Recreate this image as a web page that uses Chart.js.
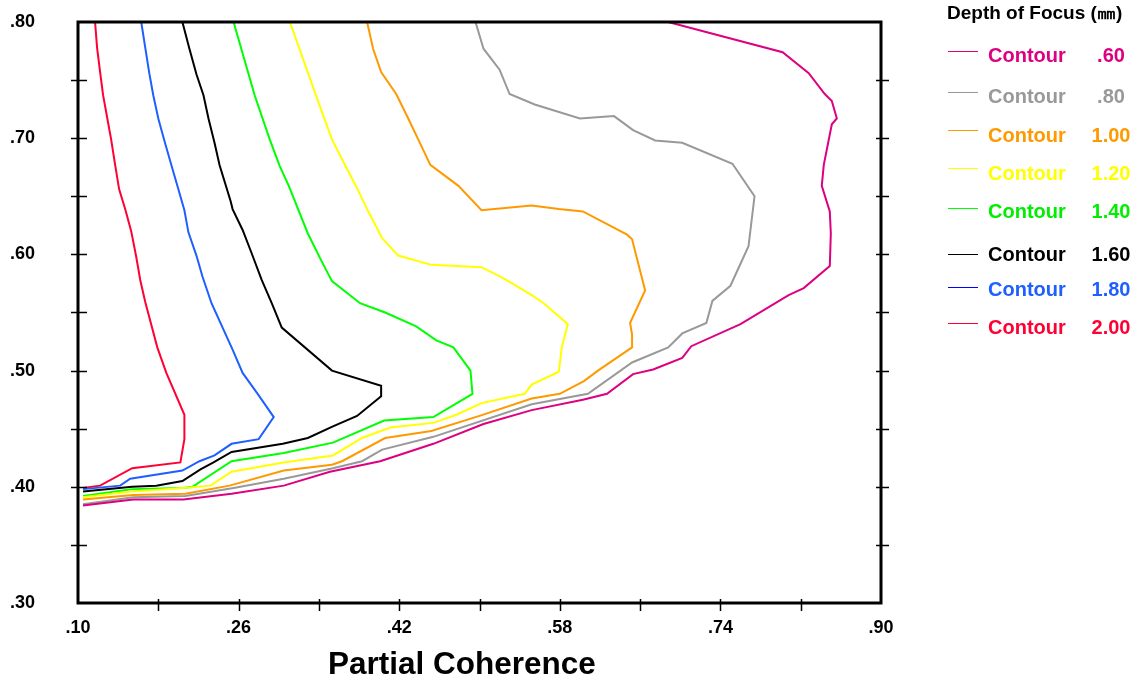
<!DOCTYPE html>
<html>
<head>
<meta charset="utf-8">
<script src="https://cdn.jsdelivr.net/npm/chart.js@4.4.1/dist/chart.umd.min.js"></script>
<style>
  body { margin: 0; background: #fff; }
  #wrap { position: relative; width: 1141px; height: 681px; font-family: "Liberation Sans", Arial, sans-serif; font-weight: bold; }
  #chart { position: absolute; left: 0; top: 0; }
  .lg { position: absolute; white-space: nowrap; }
</style>
</head>
<body>
<div id="wrap">
  <canvas id="chart" width="1141" height="681"></canvas>
</div>
<script>
// axis ticks
const xTicks = [0.10, 0.18, 0.26, 0.34, 0.42, 0.50, 0.58, 0.66, 0.74, 0.82, 0.90];
const yTicks = [0.30, 0.35, 0.40, 0.45, 0.50, 0.55, 0.60, 0.65, 0.70, 0.75, 0.80];

// contour levels (depth of focus)
const levels = ['.60', '.80', '1.00', '1.20', '1.40', '1.60', '1.80', '2.00'];
const lineColors = ['#DD0080', '#999999', '#FF9900', '#FFFF00', '#00FF00', '#000000', '#1F5FFF', '#FF0033'];
const textColors = ['#DD0080', '#999999', '#FF9900', '#FFFF00', '#00EE00', '#000000', '#1F5FFF', '#FF0033'];
const legendLineColors = ['#DD0080', '#999999', '#FF9900', '#FFFF00', '#00FF00', '#000000', '#0000FF', '#FF0033'];

// contour .60
const c060X = [0.688,0.802,0.828,0.844,0.851,0.856,0.851,0.843,0.841,0.849,0.850,0.849,0.823,0.808,0.760,0.711,0.702,0.673,0.653,0.627,0.603,0.552,0.504,0.454,0.401,0.351,0.305,0.253,0.205,0.155,0.105];
const c060Y = [0.800,0.774,0.756,0.738,0.732,0.717,0.712,0.677,0.659,0.637,0.618,0.590,0.571,0.565,0.540,0.521,0.511,0.501,0.497,0.480,0.475,0.466,0.454,0.437,0.422,0.413,0.401,0.394,0.389,0.389,0.384];
// contour .80
const c080X = [0.496,0.504,0.520,0.530,0.555,0.600,0.634,0.653,0.675,0.702,0.752,0.774,0.768,0.750,0.732,0.726,0.702,0.688,0.652,0.608,0.552,0.454,0.403,0.383,0.354,0.305,0.255,0.207,0.155,0.105];
const c080Y = [0.800,0.777,0.759,0.738,0.729,0.717,0.719,0.707,0.698,0.696,0.678,0.650,0.607,0.573,0.560,0.541,0.532,0.520,0.507,0.480,0.471,0.443,0.432,0.422,0.416,0.407,0.399,0.392,0.391,0.385];
// contour 1.00
const c100X = [0.388,0.394,0.402,0.417,0.429,0.440,0.451,0.479,0.502,0.552,0.579,0.603,0.647,0.652,0.665,0.650,0.652,0.652,0.618,0.604,0.580,0.552,0.500,0.452,0.406,0.363,0.353,0.305,0.251,0.207,0.155,0.105];
const c100Y = [0.800,0.777,0.757,0.738,0.717,0.697,0.677,0.659,0.638,0.642,0.639,0.637,0.617,0.613,0.569,0.541,0.531,0.520,0.500,0.491,0.480,0.476,0.461,0.448,0.442,0.422,0.419,0.414,0.401,0.394,0.393,0.389];
// contour 1.20
const c120X = [0.311,0.328,0.337,0.353,0.366,0.378,0.388,0.403,0.419,0.452,0.502,0.525,0.552,0.564,0.588,0.582,0.579,0.552,0.545,0.502,0.477,0.454,0.411,0.383,0.354,0.305,0.253,0.232,0.205,0.153,0.105];
const c120Y = [0.800,0.759,0.737,0.699,0.677,0.657,0.639,0.614,0.599,0.591,0.589,0.579,0.565,0.558,0.540,0.520,0.499,0.488,0.480,0.472,0.462,0.455,0.451,0.442,0.427,0.421,0.413,0.401,0.399,0.396,0.391];
// contour 1.40
const c140X = [0.255,0.276,0.291,0.301,0.310,0.329,0.341,0.353,0.381,0.406,0.437,0.457,0.474,0.491,0.493,0.454,0.405,0.354,0.305,0.253,0.214,0.205,0.154,0.105];
const c140Y = [0.800,0.737,0.699,0.676,0.659,0.618,0.597,0.577,0.558,0.550,0.538,0.526,0.520,0.500,0.480,0.460,0.457,0.438,0.429,0.422,0.400,0.399,0.398,0.392];
// contour 1.60
const c160X = [0.204,0.211,0.218,0.225,0.230,0.236,0.241,0.252,0.254,0.264,0.273,0.283,0.293,0.303,0.353,0.402,0.402,0.378,0.354,0.329,0.304,0.253,0.235,0.222,0.204,0.178,0.154,0.105];
const c160Y = [0.800,0.777,0.755,0.737,0.717,0.696,0.677,0.646,0.639,0.621,0.601,0.578,0.558,0.537,0.500,0.487,0.478,0.461,0.452,0.442,0.437,0.430,0.421,0.415,0.405,0.401,0.400,0.396];
// contour 1.80
const c180X = [0.163,0.167,0.171,0.175,0.180,0.186,0.193,0.199,0.206,0.210,0.218,0.224,0.233,0.254,0.264,0.279,0.295,0.280,0.253,0.236,0.221,0.204,0.152,0.142,0.105];
const c180Y = [0.800,0.778,0.756,0.737,0.717,0.698,0.677,0.659,0.638,0.619,0.599,0.581,0.558,0.518,0.498,0.480,0.460,0.441,0.437,0.427,0.422,0.414,0.407,0.401,0.398];
// contour 2.00
const c200X = [0.117,0.119,0.122,0.125,0.129,0.133,0.137,0.141,0.147,0.153,0.158,0.162,0.167,0.179,0.188,0.206,0.206,0.202,0.154,0.122,0.105];
const c200Y = [0.800,0.778,0.757,0.737,0.718,0.699,0.677,0.656,0.639,0.620,0.598,0.578,0.559,0.520,0.498,0.462,0.441,0.421,0.416,0.401,0.399];

const contoursX = [c060X, c080X, c100X, c120X, c140X, c160X, c180X, c200X];
const contoursY = [c060Y, c080Y, c100Y, c120Y, c140Y, c160Y, c180Y, c200Y];

function fmt(v) {
    return v.toFixed(2).replace(/^0\./, '.');
}

const datasets = levels.map((lv, i) => ({
    label: 'Contour ' + lv,
    data: contoursX[i].map((x, j) => ({x: x, y: contoursY[i][j]})),
    showLine: true,
    borderColor: lineColors[i],
    backgroundColor: lineColors[i],
    borderWidth: 2,
    pointRadius: 0,
    tension: 0,
    fill: false
}));

// box round the plot area and the little cross ticks
const framePlugin = {
    id: 'frame',
    afterDatasetsDraw(chart) {
        const ctx = chart.ctx;
        const a = chart.chartArea;
        const x = chart.scales.x, y = chart.scales.y;
        ctx.save();
        ctx.strokeStyle = '#000';
        ctx.lineWidth = 3;
        ctx.strokeRect(a.left, a.top, a.right - a.left, a.bottom - a.top);
        ctx.lineWidth = 1.5;
        ctx.beginPath();
        yTicks.slice(1, -1).forEach(v => {
            const py = Math.round(y.getPixelForValue(v)) + 0.5;
            ctx.moveTo(a.left - 7, py); ctx.lineTo(a.left + 9, py);
            ctx.moveTo(a.right - 5, py); ctx.lineTo(a.right + 8, py);
        });
        xTicks.slice(1, -1).forEach(v => {
            const px = Math.round(x.getPixelForValue(v)) + 0.5;
            ctx.moveTo(px, a.bottom - 4); ctx.lineTo(px, a.bottom + 8);
        });
        ctx.stroke();
        ctx.restore();
    }
};

const tickFont = {family: '"Liberation Sans", Arial, sans-serif', size: 18, weight: 'bold'};

new Chart(document.getElementById('chart'), {
    type: 'scatter',
    data: {datasets: datasets},
    options: {
        responsive: false,
        animation: false,
        layout: {padding: {left: 10, right: 260, top: 22, bottom: 0}},
        plugins: {legend: {display: false}, tooltip: {enabled: false}},
        scales: {
            x: {
                type: 'linear', min: 0.10, max: 0.90,
                afterBuildTicks: s => { s.ticks = xTicks.map(v => ({value: v})); },
                afterFit: s => { s.height = 78; },
                grid: {display: false},
                border: {display: false},
                ticks: {
                    color: '#000', font: tickFont, padding: 6, maxRotation: 0, autoSkip: false,
                    callback: (v, i) => i % 2 === 0 ? fmt(v) : ''
                }
            },
            y: {
                type: 'linear', min: 0.30, max: 0.80,
                afterBuildTicks: s => { s.ticks = yTicks.map(v => ({value: v})); },
                afterFit: s => { s.width = 68; },
                grid: {display: false},
                border: {display: false},
                ticks: {
                    color: '#000', font: tickFont, padding: 0, crossAlign: 'far', autoSkip: false,
                    callback: (v, i) => i % 2 === 0 ? fmt(v) : ''
                }
            }
        }
    },
    plugins: [framePlugin]
});

// axis title and legend as page text
const wrap = document.getElementById('wrap');
function addText(txt, left, top, size, color, extra) {
    const d = document.createElement('div');
    d.className = 'lg';
    d.textContent = txt;
    d.style.left = left + 'px';
    d.style.top = top + 'px';
    d.style.fontSize = size + 'px';
    d.style.lineHeight = size + 'px';
    d.style.color = color;
    if (extra) Object.assign(d.style, extra);
    wrap.appendChild(d);
    return d;
}

addText('Partial Coherence', 328, 648, 31.5, '#000');
addText('Depth of Focus (\u339C)', 947, 2.5, 19, '#000');

const rowTextY = [55, 95.7, 135, 173.3, 210.7, 254, 288.7, 326.7];
const rowLineY = [51.7, 92.3, 130.7, 168.3, 208.3, 254.3, 287.7, 323.3];
levels.forEach((lv, i) => {
    const ln = document.createElement('div');
    ln.className = 'lg';
    ln.style.left = '948px';
    ln.style.top = (rowLineY[i] - 0.5) + 'px';
    ln.style.width = '30px';
    ln.style.height = '1.2px';
    ln.style.background = legendLineColors[i];
    wrap.appendChild(ln);
    addText('Contour', 988, rowTextY[i] - 10, 20, textColors[i]);
    addText(lv, 1071, rowTextY[i] - 10, 20, textColors[i], {width: '80px', textAlign: 'center'});
});
</script>
</body>
</html>
